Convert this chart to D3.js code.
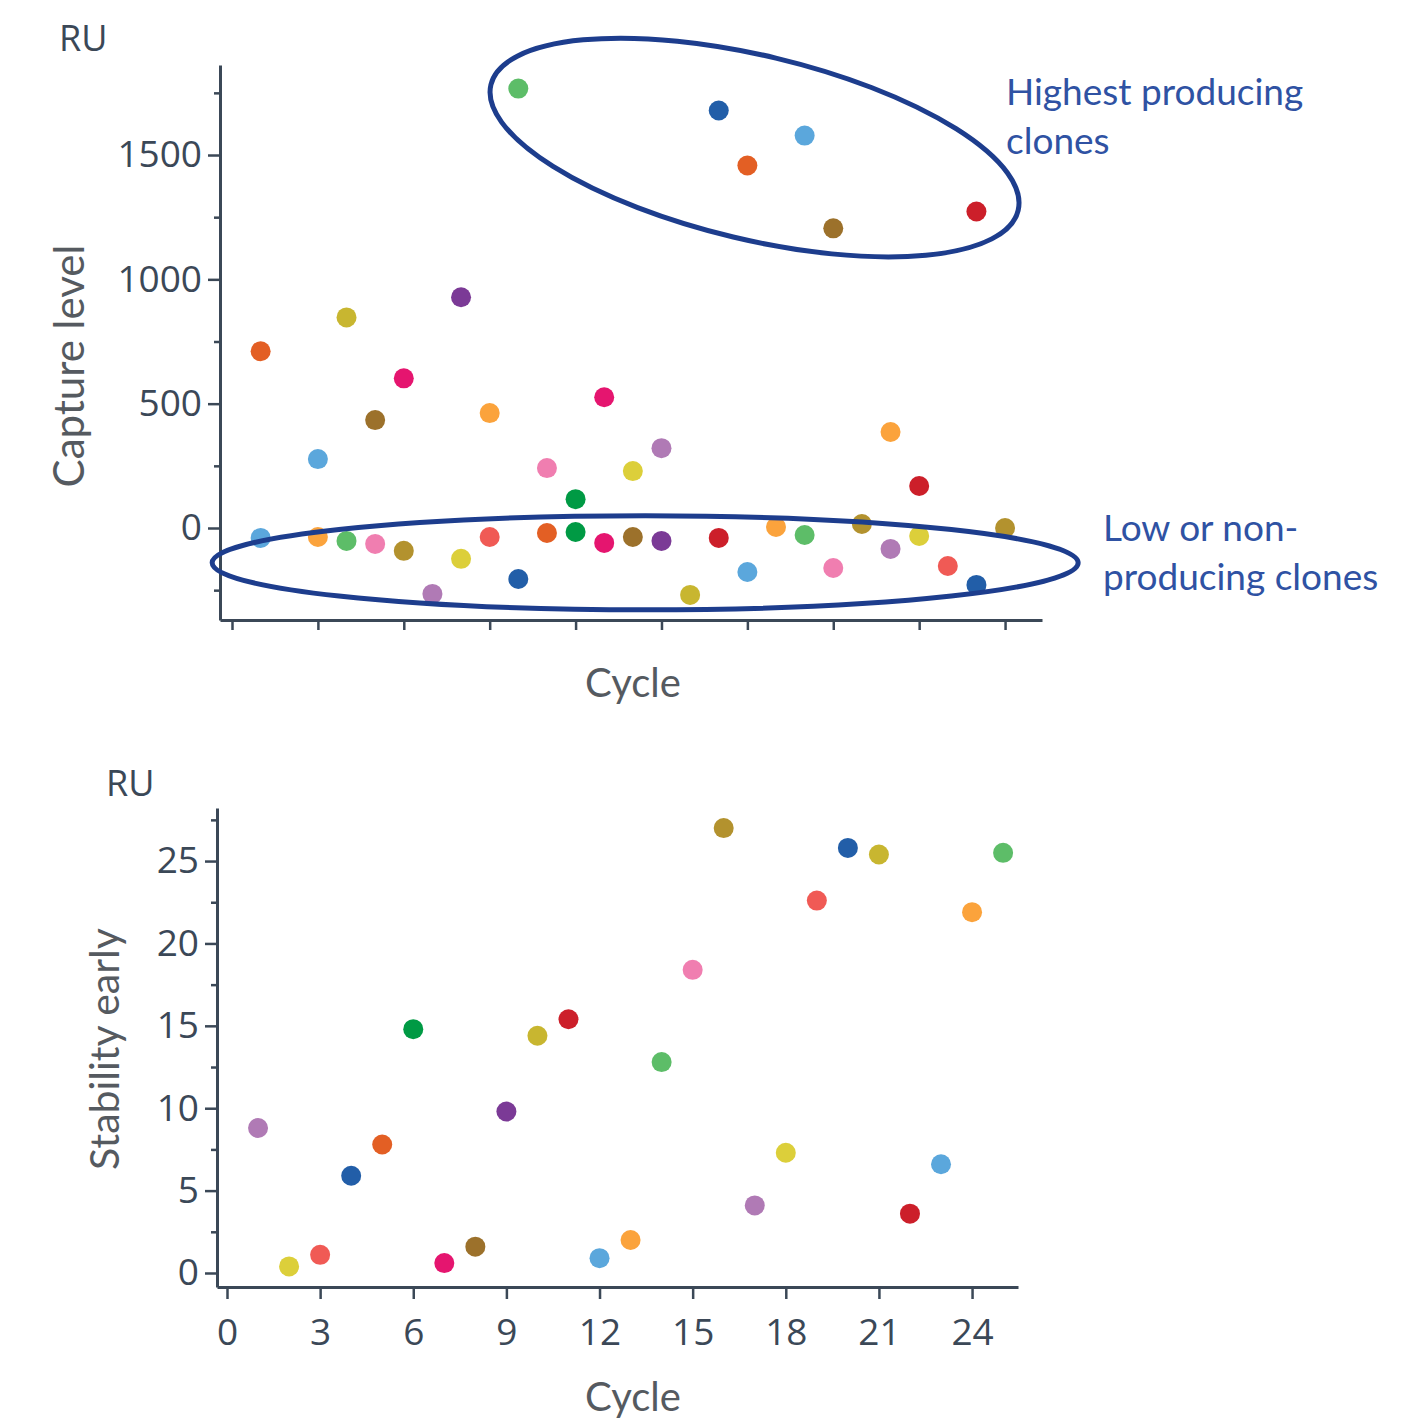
<!DOCTYPE html>
<html>
<head>
<meta charset="utf-8">
<script src="https://cdn.jsdelivr.net/npm/d3@7"></script>
<style>
  html, body { margin: 0; padding: 0; background: #ffffff; }
  svg { display: block; }
</style>
</head>
<body>
<svg id="chart" width="1408" height="1421"></svg>
<script>
// ---------- Data ----------
const palette = {
  orangeDark: "#e35f24", lightBlue: "#5ba7dc", orange: "#fba33c", olive: "#c8b630",
  greenLight: "#5dbd68", brown: "#9c712b", pink: "#f07eb0", magenta: "#e5156f",
  oliveBrown: "#b3922e", lightPurple: "#b07ab5", purple: "#7b3a96", yellow: "#dccf3a",
  salmon: "#f05a55", blue: "#225ea8", green: "#009a44", red: "#cc1f2a"
};

// Top chart: Capture level (RU) per cycle
const captureCycles = [1, 1, 3, 3, 4, 4, 5, 5, 6, 6, 7, 8, 8, 9, 9, 10, 10, 11, 11, 12, 12, 13, 13, 14, 14, 15, 15, 16, 17, 17, 18, 18, 19, 20, 20, 21, 21, 22, 23, 23, 24, 24, 25, 26, 26, 27];
const captureValues = [711, -40, 277, -36, 847, -52, 434, -64, 602, -92, -265, 928, -124, 462, -36, 1767, -205, 241, -20, 116, -16, 526, -60, 229, -36, 321, -52, -269, 1679, -40, 1458, -177, 4, 1578, -28, 1205, -161, 16, 386, -84, 169, -32, -153, 1273, -229, 0];
const captureColors = ["orangeDark", "lightBlue", "lightBlue", "orange", "olive", "greenLight", "brown", "pink", "magenta", "oliveBrown", "lightPurple", "purple", "yellow", "orange", "salmon", "greenLight", "blue", "pink", "orangeDark", "green", "green", "magenta", "magenta", "yellow", "brown", "lightPurple", "purple", "olive", "blue", "red", "orangeDark", "lightBlue", "orange", "lightBlue", "greenLight", "brown", "pink", "oliveBrown", "orange", "lightPurple", "red", "yellow", "salmon", "red", "blue", "oliveBrown"];
const captureMajorTicks = [0, 500, 1000, 1500];
const captureMinorTicks = [-250, 250, 750, 1250, 1750];
const captureXTicks = [0, 3, 6, 9, 12, 15, 18, 21, 24, 27];

// Bottom chart: Stability early (RU) per cycle
const stabilityCycles = [1, 2, 3, 4, 5, 6, 7, 8, 9, 10, 11, 12, 13, 14, 15, 16, 17, 18, 19, 20, 21, 22, 23, 24, 25];
const stabilityValues = [8.8, 0.4, 1.1, 5.9, 7.8, 14.8, 0.6, 1.6, 9.8, 14.4, 15.4, 0.9, 2.0, 12.8, 18.4, 27.0, 4.1, 7.3, 22.6, 25.8, 25.4, 3.6, 6.6, 21.9, 25.5];
const stabilityColors = ["lightPurple", "yellow", "salmon", "blue", "orangeDark", "green", "magenta", "brown", "purple", "olive", "red", "lightBlue", "orange", "greenLight", "pink", "oliveBrown", "lightPurple", "yellow", "salmon", "blue", "olive", "red", "lightBlue", "orange", "greenLight"];
const stabilityMajorTicks = [0, 5, 10, 15, 20, 25];
const stabilityMinorTicks = [2.5, 7.5, 12.5, 17.5, 22.5, 27.5];
const stabilityXTicks = [0, 3, 6, 9, 12, 15, 18, 21, 24];

const annotationTop = ["Highest producing", "clones"];
const annotationBottom = ["Low or non-", "producing clones"];

// ---------- Styles ----------
const axisColor = "#3b4857";
const tickFont = "'Open Sans', sans-serif";
const titleFont = "Lato, 'Open Sans', sans-serif";
const titleColor = "#555a60";
const annColor = "#2f52a3";
const ellipseColor = "#1d3d8d";
const R = 10;

const svg = d3.select("#chart");

function styleAxis(g) {
  g.selectAll("path.domain").attr("stroke", axisColor).attr("stroke-width", 3);
  g.selectAll(".tick line").attr("stroke", axisColor).attr("stroke-width", 2.5);
  g.selectAll(".tick text").attr("fill", axisColor).style("font-family", tickFont).style("font-size", "37px");
}

// ---------- Top chart ----------
const xTop = d3.scaleLinear().domain([-0.419, 28.29]).range([220, 1042]);
const yTop = d3.scaleLinear().domain([-370, 1862]).range([620, 65]);

svg.append("g").attr("transform", `translate(0,${yTop.range()[0]})`)
  .call(d3.axisBottom(xTop).tickValues(captureXTicks).tickFormat("").tickSize(10).tickSizeOuter(0))
  .call(styleAxis);

svg.append("g").attr("transform", `translate(${xTop.range()[0]},0)`)
  .call(d3.axisLeft(yTop).tickValues(captureMinorTicks).tickFormat("").tickSize(6).tickSizeOuter(0))
  .call(styleAxis);
svg.append("g").attr("transform", `translate(${xTop.range()[0]},0)`)
  .call(d3.axisLeft(yTop).tickValues(captureMajorTicks).tickFormat(d3.format("d")).tickSize(12).tickPadding(6).tickSizeOuter(0))
  .call(styleAxis)
  .call(g => g.select("path.domain").remove());

svg.append("g").selectAll("circle")
  .data(captureCycles.map((c, i) => ({ c, v: captureValues[i], col: palette[captureColors[i]] })))
  .join("circle")
  .attr("cx", d => xTop(d.c)).attr("cy", d => yTop(d.v)).attr("r", R)
  .attr("fill", d => d.col);

svg.append("text").text("RU")
  .attr("x", 59).attr("y", 51)
  .attr("fill", axisColor).style("font-family", tickFont).style("font-size", "36px");

svg.append("text").text("Capture level")
  .attr("transform", `translate(84,366) rotate(-90)`)
  .attr("text-anchor", "middle")
  .attr("fill", titleColor).style("font-family", titleFont).style("font-size", "42px");

svg.append("text").text("Cycle")
  .attr("x", 633).attr("y", 697)
  .attr("text-anchor", "middle")
  .attr("fill", titleColor).style("font-family", titleFont).style("font-size", "40px");

// Ellipses (annotations)
svg.append("ellipse")
  .attr("cx", xTop(18.25)).attr("cy", yTop(1530))
  .attr("rx", 271).attr("ry", 92)
  .attr("transform", `rotate(13.4, ${xTop(18.25)}, ${yTop(1530)})`)
  .attr("fill", "none").attr("stroke", ellipseColor).attr("stroke-width", 5);

svg.append("ellipse")
  .attr("cx", xTop(14.43)).attr("cy", yTop(-140))
  .attr("rx", 433).attr("ry", 47)
  .attr("fill", "none").attr("stroke", ellipseColor).attr("stroke-width", 5);

svg.append("g").selectAll("text")
  .data(annotationTop).join("text")
  .text(d => d)
  .attr("x", 1006).attr("y", (d, i) => 105 + i * 49)
  .attr("fill", annColor).style("font-family", titleFont).style("font-size", "37px");

svg.append("g").selectAll("text")
  .data(annotationBottom).join("text")
  .text(d => d)
  .attr("x", 1103).attr("y", (d, i) => 541 + i * 49)
  .attr("fill", annColor).style("font-family", titleFont).style("font-size", "37px");

// ---------- Bottom chart ----------
const xBot = d3.scaleLinear().domain([-0.322, 25.48]).range([217, 1018]);
const yBot = d3.scaleLinear().domain([-0.85, 28.22]).range([1287, 808]);

svg.append("g").attr("transform", `translate(0,${yBot.range()[0]})`)
  .call(d3.axisBottom(xBot).tickValues(stabilityXTicks).tickFormat(d3.format("d")).tickSize(12).tickPadding(20).tickSizeOuter(0))
  .call(styleAxis);

svg.append("g").attr("transform", `translate(${xBot.range()[0]},0)`)
  .call(d3.axisLeft(yBot).tickValues(stabilityMinorTicks).tickFormat("").tickSize(6).tickSizeOuter(0))
  .call(styleAxis);
svg.append("g").attr("transform", `translate(${xBot.range()[0]},0)`)
  .call(d3.axisLeft(yBot).tickValues(stabilityMajorTicks).tickFormat(d3.format("d")).tickSize(12).tickPadding(6).tickSizeOuter(0))
  .call(styleAxis)
  .call(g => g.select("path.domain").remove());

svg.append("g").selectAll("circle")
  .data(stabilityCycles.map((c, i) => ({ c, v: stabilityValues[i], col: palette[stabilityColors[i]] })))
  .join("circle")
  .attr("cx", d => xBot(d.c)).attr("cy", d => yBot(d.v)).attr("r", R)
  .attr("fill", d => d.col);

svg.append("text").text("RU")
  .attr("x", 106).attr("y", 796)
  .attr("fill", axisColor).style("font-family", tickFont).style("font-size", "36px");

svg.append("text").text("Stability early")
  .attr("transform", `translate(119,1049) rotate(-90)`)
  .attr("text-anchor", "middle")
  .attr("fill", titleColor).style("font-family", titleFont).style("font-size", "41px");

svg.append("text").text("Cycle")
  .attr("x", 633).attr("y", 1411)
  .attr("text-anchor", "middle")
  .attr("fill", titleColor).style("font-family", titleFont).style("font-size", "40px");
</script>
</body>
</html>
